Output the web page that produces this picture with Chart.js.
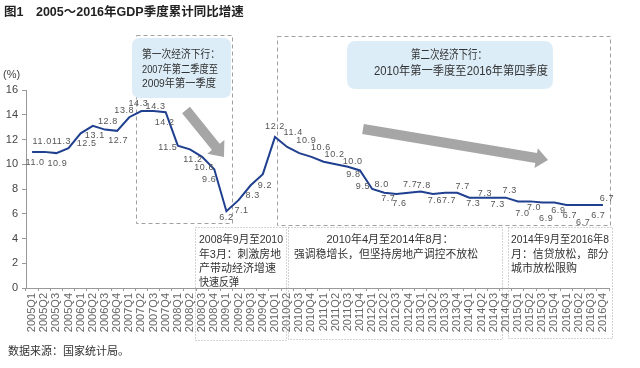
<!DOCTYPE html>
<html>
<head>
<meta charset="utf-8">
<script src="https://cdn.jsdelivr.net/npm/chart.js@4.4.1/dist/chart.umd.min.js"></script>
<style>
  html, body { margin: 0; padding: 0; background: #fff; }
  #wrap { position: relative; width: 640px; height: 368px; }
</style>
</head>
<body>
<div id="wrap"><canvas id="c" width="640" height="368"></canvas></div>
<script>
// ---- Data ----
const categories = [
  '2005Q1','2005Q2','2005Q3','2005Q4','2006Q1','2006Q2','2006Q3','2006Q4',
  '2007Q1','2007Q2','2007Q3','2007Q4','2008Q1','2008Q2','2008Q3','2008Q4',
  '2009Q1','2009Q2','2009Q3','2009Q4','2010Q1','2010Q2','2010Q3','2010Q4',
  '2011Q1','2011Q2','2011Q3','2011Q4','2012Q1','2012Q2','2012Q3','2012Q4',
  '2013Q1','2013Q2','2013Q3','2013Q4','2014Q1','2014Q2','2014Q3','2014Q4',
  '2015Q1','2015Q2','2015Q3','2015Q4','2016Q1','2016Q2','2016Q3','2016Q4'
];
const gdpGrowth = [
  11.0, 11.0, 10.9, 11.3, 12.5, 13.1, 12.8, 12.7,
  13.8, 14.3, 14.3, 14.2, 11.5, 11.2, 10.6, 9.6,
  6.2, 7.1, 8.3, 9.2, 12.2, 11.4, 10.9, 10.6,
  10.2, 10.0, 9.8, 9.5, 8.0, 7.7, 7.6, 7.7,
  7.8, 7.6, 7.7, 7.7, 7.3, 7.3, 7.3, 7.3,
  7.0, 7.0, 6.9, 6.9, 6.7, 6.7, 6.7, 6.7
];
const yTicks = [0, 2, 4, 6, 8, 10, 12, 14, 16];

// label offsets (dx, dy) relative to each point (style only)
const labelOffsets = [
  [3,11],[-2,-10],[1,10],[-7,-7],[6,10],[2,10],[3,-8],[1,10],
  [-5,-6.5],[-3,-8],[2,-5],[-1,10],[-10,2],[3,10.5],[2,10.5],[-5,10],
  [0,6],[3,10.5],[2,10.5],[2,11],[0,-11],[6,-14],[7,-12.5],[9.5,-9.5],
  [11,-7],[17,-3],[5.5,7.5],[3,16],[9.5,-4],[4,6],[3,10],[1.5,-8],
  [3,-6],[2,7],[4,8],[5.5,-6],[4,6],[3.5,-4.5],[4,6.5],[4,-7.5],
  [4.5,12],[4,6],[4,15.7],[4,7.5],[3.5,10.5],[4.5,17.5],[7.5,10.5],[4,-7]
];

const LAT = '"Liberation Sans", "Noto Sans CJK SC", sans-serif';
const CJK = '"Liberation Sans", "Noto Sans CJK SC", sans-serif';

function dashedRect(ctx, x1, y1, x2, y2, dash, color) {
  ctx.save();
  ctx.strokeStyle = color;
  ctx.lineWidth = 1;
  ctx.setLineDash(dash);
  ctx.strokeRect(x1 + 0.5, y1 + 0.5, x2 - x1, y2 - y1);
  ctx.restore();
}
function roundRect(ctx, x, y, w, h, r, fill) {
  ctx.save();
  ctx.fillStyle = fill;
  ctx.beginPath();
  ctx.moveTo(x + r, y);
  ctx.lineTo(x + w - r, y);
  ctx.quadraticCurveTo(x + w, y, x + w, y + r);
  ctx.lineTo(x + w, y + h - r);
  ctx.quadraticCurveTo(x + w, y + h, x + w - r, y + h);
  ctx.lineTo(x + r, y + h);
  ctx.quadraticCurveTo(x, y + h, x, y + h - r);
  ctx.lineTo(x, y + r);
  ctx.quadraticCurveTo(x, y, x + r, y);
  ctx.closePath();
  ctx.fill();
  ctx.restore();
}
function arrow(ctx, x1, y1, x2, y2, bodyW, headW, headL, color) {
  const dx = x2 - x1, dy = y2 - y1;
  const len = Math.hypot(dx, dy);
  const ux = dx / len, uy = dy / len;
  const nx = -uy, ny = ux;
  const bx = x2 - ux * headL, by = y2 - uy * headL;
  ctx.save();
  ctx.fillStyle = color;
  ctx.beginPath();
  ctx.moveTo(x1 + nx * bodyW / 2, y1 + ny * bodyW / 2);
  ctx.lineTo(bx + nx * bodyW / 2, by + ny * bodyW / 2);
  ctx.lineTo(bx + nx * headW / 2, by + ny * headW / 2);
  ctx.lineTo(x2, y2);
  ctx.lineTo(bx - nx * headW / 2, by - ny * headW / 2);
  ctx.lineTo(bx - nx * bodyW / 2, by - ny * bodyW / 2);
  ctx.lineTo(x1 - nx * bodyW / 2, y1 - ny * bodyW / 2);
  ctx.closePath();
  ctx.fill();
  ctx.restore();
}
function text(ctx, s, x, y, opts) {
  ctx.save();
  ctx.font = opts.font;
  ctx.fillStyle = opts.color || '#333';
  ctx.textAlign = opts.align || 'left';
  ctx.textBaseline = 'middle';
  if (opts.maxWidth) ctx.fillText(s, x, y, opts.maxWidth);
  else ctx.fillText(s, x, y);
  ctx.restore();
}

const decoPlugin = {
  id: 'deco',
  beforeDatasetsDraw(chart) {
    const ctx = chart.ctx;
    // top dashed boxes
    dashedRect(ctx, 136, 35, 232, 223, [4, 3], '#a0a0a0');
    dashedRect(ctx, 277, 36, 610, 225, [4, 3], '#a0a0a0');
    // blue callouts
    roundRect(ctx, 132, 38, 99, 60, 8, '#dcedf8');
    roundRect(ctx, 347, 41, 206, 48, 9, '#dcedf8');
    const f11 = '11px ' + CJK;
    text(ctx, '第一次经济下行：', 142, 55, {font: f11, maxWidth: 78});
    text(ctx, '2007年第二季度至', 142, 69.5, {font: f11, maxWidth: 76});
    text(ctx, '2009年第一季度', 142, 84, {font: f11, maxWidth: 74});
    text(ctx, '第二次经济下行：', 449, 56, {font: '12px ' + CJK, align: 'center', maxWidth: 76});
    text(ctx, '2010年第一季度至2016年第四季度', 461, 72, {font: '12px ' + CJK, align: 'center', maxWidth: 174});
    // arrows
    arrow(ctx, 186, 110, 224, 157, 10, 22, 13, '#a6a6a6');
    arrow(ctx, 363, 129, 548, 160, 10, 20, 12, '#a6a6a6');
    // bottom dotted boxes
    dashedRect(ctx, 195, 227, 286, 340, [1, 2], '#a8a8a8');
    dashedRect(ctx, 288, 227, 502, 339, [1, 2], '#a8a8a8');
    dashedRect(ctx, 508, 227, 612, 338, [1, 2], '#a8a8a8');
    text(ctx, '2008年9月至2010', 199, 240, {font: f11, maxWidth: 84});
    text(ctx, '年3月：刺激房地', 199, 254.5, {font: f11, maxWidth: 82});
    text(ctx, '产带动经济增速', 199, 269, {font: f11, maxWidth: 77});
    text(ctx, '快速反弹', 199, 283, {font: f11, maxWidth: 40});
    text(ctx, '2010年4月至2014年8月：', 390, 240, {font: f11, align: 'center', maxWidth: 128});
    text(ctx, '强调稳增长，但坚持房地产调控不放松', 386, 255, {font: f11, align: 'center', maxWidth: 184});
    text(ctx, '2014年9月至2016年8', 511, 240, {font: f11, maxWidth: 98});
    text(ctx, '月：信贷放松，部分', 511, 254.5, {font: f11, maxWidth: 98});
    text(ctx, '城市放松限购', 511, 269, {font: f11, maxWidth: 66});
  },
  afterDatasetsDraw(chart) {
    const ctx = chart.ctx;
    const meta = chart.getDatasetMeta(0);
    ctx.save();
    ctx.font = '9px ' + LAT;
    ctx.fillStyle = '#555';
    ctx.textAlign = 'center';
    ctx.textBaseline = 'middle';
    try { ctx.letterSpacing = '0.6px'; } catch (e) {}
    meta.data.forEach((pt, i) => {
      const o = labelOffsets[i];
      ctx.fillText(gdpGrowth[i].toFixed(1), pt.x + o[0], pt.y + o[1]);
    });
    ctx.restore();
  },
  afterDraw(chart) {
    const ctx = chart.ctx;
    text(ctx, '图1　2005～2016年GDP季度累计同比增速', 4, 13, {font: 'bold 12.5px ' + CJK, color: '#222', maxWidth: 264});
    text(ctx, '(%)', 3, 75, {font: '11px ' + LAT, color: '#444'});
    text(ctx, '数据来源：国家统计局。', 8, 352, {font: '11px ' + CJK, color: '#333'});
  }
};

new Chart(document.getElementById('c'), {
  type: 'line',
  data: {
    labels: categories,
    datasets: [{
      data: gdpGrowth,
      borderColor: '#1f3f8f',
      borderWidth: 2,
      pointRadius: 0,
      tension: 0,
      fill: false
    }]
  },
  options: {
    responsive: false,
    animation: false,
    devicePixelRatio: 1,
    layout: { padding: { left: 0, top: 90, right: 31, bottom: 30 } },
    plugins: { legend: { display: false }, tooltip: { enabled: false } },
    scales: {
      x: {
        type: 'category',
        offset: true,
        grid: { display: true, drawOnChartArea: false, drawTicks: true, tickLength: 3, color: '#999', offset: true },
        border: { display: true, color: '#999' },
        ticks: { autoSkip: false, minRotation: 90, maxRotation: 90, padding: 2, color: '#666', font: { size: 11, family: LAT } },
        afterFit(s) { s.height = 50; }
      },
      y: {
        min: 0, max: 16,
        afterBuildTicks(s) { s.ticks = yTicks.map(v => ({ value: v })); },
        grid: { display: true, drawOnChartArea: false, drawTicks: true, tickLength: 4, color: '#999' },
        border: { display: true, color: '#999' },
        ticks: { padding: 4, color: '#444', font: { size: 11, family: LAT } },
        afterFit(s) { s.width = 26; }
      }
    }
  },
  plugins: [decoPlugin]
});
</script>
</body>
</html>
